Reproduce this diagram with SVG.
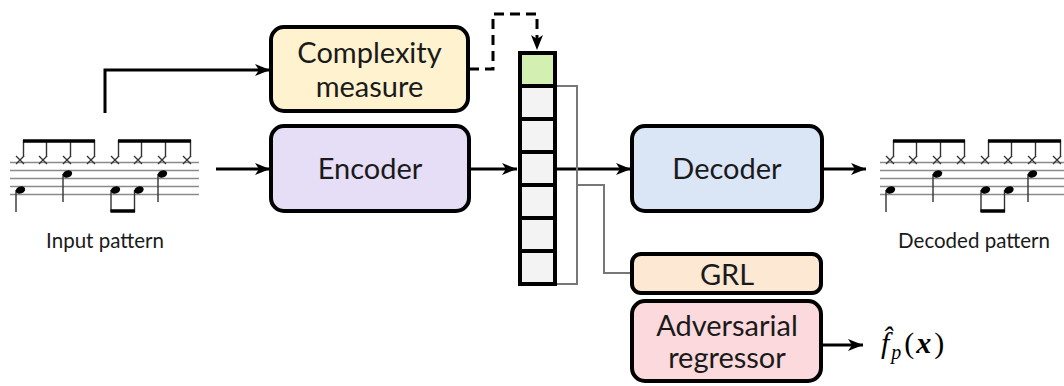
<svg xmlns="http://www.w3.org/2000/svg" xmlns:xlink="http://www.w3.org/1999/xlink" width="1064" height="386" viewBox="0 0 1064 386">
  <style>
    .box { stroke: #000; stroke-width: 4; }
    .lbl { font-family: Lato, "Liberation Sans", sans-serif; font-size: 29px; fill: #1a1a1a; text-anchor: middle; }
    .cap { font-family: Lato, "Liberation Sans", sans-serif; font-size: 20.5px; fill: #1a1a1a; text-anchor: middle; }
    .edge { fill: none; stroke: #000; stroke-width: 3; }
    .dash { fill: none; stroke: #000; stroke-width: 3; stroke-dasharray: 10 6; }
    .thin { fill: none; stroke: #777; stroke-width: 2; }
    .cell { fill: #f3f3f3; stroke: #000; stroke-width: 4; }
    .staff { stroke: #8a8a8a; stroke-width: 1.3; }
    .stem { stroke: #333; stroke-width: 1.4; }
    .beam { stroke: #000; stroke-width: 3.5; }
    .hh { stroke: #333; stroke-width: 1.3; fill: none; }
    .math { font-family: "Liberation Serif", "DejaVu Serif", serif; fill: #000; font-size: 30px; }
  </style>
  <defs>
    <marker id="arrow" markerUnits="userSpaceOnUse" markerWidth="16" markerHeight="12" refX="15" refY="6" orient="auto">
      <path d="M0,0 L15,6 L0,12 L4,6 z" fill="#000"/>
    </marker>
    <!-- one bar of drum notation: hi-hat eighths above, kick/snare below -->
    <g id="score">
      <line class="staff" x1="10" y1="162.5" x2="199" y2="162.5"/>
      <line class="staff" x1="10" y1="170.5" x2="199" y2="170.5"/>
      <line class="staff" x1="10" y1="178.5" x2="199" y2="178.5"/>
      <line class="staff" x1="10" y1="186.5" x2="199" y2="186.5"/>
      <line class="staff" x1="10" y1="194.5" x2="199" y2="194.5"/>
      <g class="hh">
        <path d="M16,156 l8,8 m0,-8 l-8,8"/>
        <path d="M39,156 l8,8 m0,-8 l-8,8"/>
        <path d="M63,156 l8,8 m0,-8 l-8,8"/>
        <path d="M87,156 l8,8 m0,-8 l-8,8"/>
        <path d="M111,156 l8,8 m0,-8 l-8,8"/>
        <path d="M134,156 l8,8 m0,-8 l-8,8"/>
        <path d="M158,156 l8,8 m0,-8 l-8,8"/>
        <path d="M183,156 l8,8 m0,-8 l-8,8"/>
      </g>
      <g class="stem">
        <line x1="23.5" y1="157" x2="23.5" y2="140"/>
        <line x1="46.5" y1="157" x2="46.5" y2="140"/>
        <line x1="70.5" y1="157" x2="70.5" y2="140"/>
        <line x1="94.5" y1="157" x2="94.5" y2="140"/>
        <line x1="118.5" y1="157" x2="118.5" y2="140"/>
        <line x1="141.5" y1="157" x2="141.5" y2="140"/>
        <line x1="165.5" y1="157" x2="165.5" y2="140"/>
        <line x1="190.5" y1="157" x2="190.5" y2="140"/>
        <line x1="16" y1="190" x2="16" y2="212"/>
        <line x1="63" y1="174" x2="63" y2="202"/>
        <line x1="111" y1="190" x2="111" y2="212"/>
        <line x1="134.5" y1="190" x2="134.5" y2="212"/>
        <line x1="158" y1="174" x2="158" y2="202"/>
      </g>
      <line class="beam" x1="23" y1="141" x2="95" y2="141"/>
      <line class="beam" x1="118" y1="141" x2="191" y2="141"/>
      <line class="beam" x1="110.5" y1="211" x2="135" y2="211"/>
      <g fill="#000">
        <ellipse cx="20.5" cy="190" rx="4.8" ry="3.5" transform="rotate(-20 20.5 190)"/>
        <ellipse cx="67.5" cy="174" rx="4.8" ry="3.5" transform="rotate(-20 67.5 174)"/>
        <ellipse cx="115.5" cy="190" rx="4.8" ry="3.5" transform="rotate(-20 115.5 190)"/>
        <ellipse cx="139" cy="190" rx="4.8" ry="3.5" transform="rotate(-20 139 190)"/>
        <ellipse cx="162.5" cy="174" rx="4.8" ry="3.5" transform="rotate(-20 162.5 174)"/>
      </g>
    </g>
  </defs>

  <rect width="1064" height="386" fill="#fff"/>

  <!-- connectors -->
  <g id="connectors">
    <path class="edge" d="M105,113 V70 H270" marker-end="url(#arrow)"/>
    <path class="edge" d="M216,169 H270" marker-end="url(#arrow)"/>
    <path class="edge" d="M469,169 H517" marker-end="url(#arrow)"/>
    <path class="edge" d="M557,169 H631" marker-end="url(#arrow)"/>
    <path class="edge" d="M822,169 H866" marker-end="url(#arrow)"/>
    <path class="dash" d="M469,69 H493 V14 H537 V50" marker-end="url(#arrow)"/>
    <path class="thin" d="M557,86 H577 V284 H557"/>
    <path class="thin" d="M577,185 H604 V273 H632"/>
    <path class="edge" d="M822,345 H863" marker-end="url(#arrow)"/>
  </g>

  <g id="input-pattern">
    <use xlink:href="#score" href="#score"/>
    <text class="cap" x="105" y="248">Input pattern</text>
  </g>

  <g id="complexity-measure">
    <rect class="box" x="271" y="27" width="197" height="84" rx="13" fill="#fff2cf"/>
    <text class="lbl" x="369.5" y="63">Complexity</text>
    <text class="lbl" x="369.5" y="97">measure</text>
  </g>

  <g id="encoder">
    <rect class="box" x="271" y="126" width="198" height="85" rx="13" fill="#e6ddf6"/>
    <text class="lbl" x="370" y="179">Encoder</text>
  </g>

  <g id="latent">
    <rect x="520" y="53" width="35" height="33" fill="#d3efb2" stroke="#000" stroke-width="4"/>
    <rect class="cell" x="520" y="86" width="35" height="33"/>
    <rect class="cell" x="520" y="119" width="35" height="33"/>
    <rect class="cell" x="520" y="152" width="35" height="33"/>
    <rect class="cell" x="520" y="185" width="35" height="33"/>
    <rect class="cell" x="520" y="218" width="35" height="33"/>
    <rect class="cell" x="520" y="251" width="35" height="33"/>
  </g>

  <g id="decoder">
    <rect class="box" x="632" y="126" width="190" height="85" rx="13" fill="#dae5f6"/>
    <text class="lbl" x="727" y="179">Decoder</text>
  </g>

  <g id="decoded-pattern">
    <use xlink:href="#score" href="#score" transform="translate(870,0)"/>
    <text class="cap" x="974" y="248">Decoded pattern</text>
  </g>

  <g id="grl">
    <rect class="box" x="632" y="254" width="189" height="39" rx="9" fill="#fde8d3"/>
    <text class="lbl" x="727" y="285">GRL</text>
  </g>

  <g id="adversarial-regressor">
    <rect class="box" x="632" y="301" width="189" height="80" rx="13" fill="#fbd9dc"/>
    <text class="lbl" x="727" y="336">Adversarial</text>
    <text class="lbl" x="727" y="368">regressor</text>
  </g>

  <!-- regressor output: f-hat sub p of bold x -->
  <g id="regressor-output">
    <text class="math" x="881" y="353"><tspan font-style="italic">f̂</tspan><tspan font-style="italic" font-size="20" dx="2" dy="6">p</tspan><tspan dx="3" dy="-6">(</tspan><tspan font-style="italic" font-weight="bold" dx="2">x</tspan><tspan dx="3">)</tspan></text>
  </g>
</svg>
